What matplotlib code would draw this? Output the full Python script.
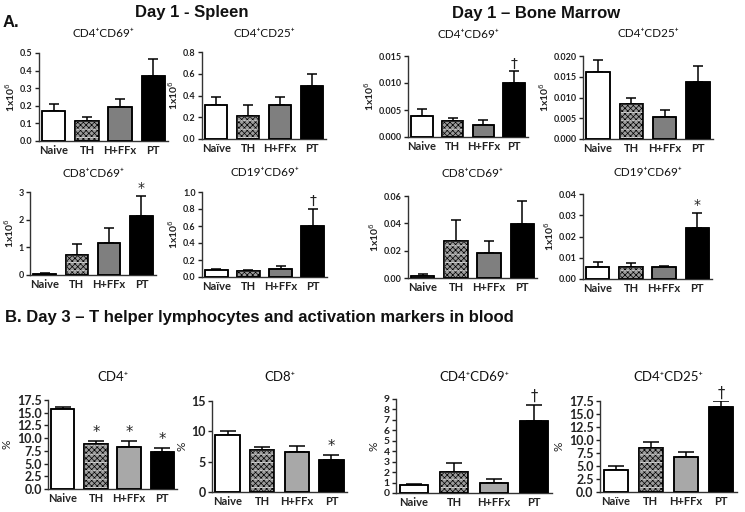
import matplotlib.pyplot as plt
from matplotlib.ticker import FormatStrFormatter, MultipleLocator

plt.rcParams['font.family'] = ['Lato', 'DejaVu Sans']
plt.rcParams['hatch.linewidth'] = 0.5
plt.rcParams['mathtext.fontset'] = 'dejavusans'

# groups on the x axis
groups = ['Naive', 'TH', 'H+FFx', 'PT']
groups_dia = ['Naïve', 'TH', 'H+FFx', 'PT']

# Day 1 - spleen (1x10^6 cells)
spl_cd4cd69 = [0.170, 0.113, 0.194, 0.368]
spl_cd4cd69_err = [0.040, 0.023, 0.046, 0.098]
spl_cd4cd25 = [0.310, 0.210, 0.310, 0.490]
spl_cd4cd25_err = [0.075, 0.100, 0.080, 0.110]
spl_cd8cd69 = [0.05, 0.74, 1.16, 2.14]
spl_cd8cd69_err = [0.01, 0.38, 0.54, 0.73]
spl_cd19cd69 = [0.086, 0.067, 0.100, 0.600]
spl_cd19cd69_err = [0.008, 0.019, 0.033, 0.200]

# Day 1 - bone marrow (1x10^6 cells)
bm_cd4cd69 = [0.0039, 0.0030, 0.0023, 0.0100]
bm_cd4cd69_err = [0.0013, 0.0006, 0.0008, 0.0022]
bm_cd4cd25 = [0.0161, 0.0085, 0.0054, 0.0137]
bm_cd4cd25_err = [0.0030, 0.0013, 0.0015, 0.0040]
bm_cd8cd69 = [0.0017, 0.0272, 0.0182, 0.0398]
bm_cd8cd69_err = [0.0010, 0.0153, 0.0092, 0.0166]
bm_cd19cd69 = [0.0055, 0.0058, 0.0055, 0.0238]
bm_cd19cd69_err = [0.0023, 0.0016, 0.0008, 0.0072]

# Day 3 - blood (%)
bl_cd4 = [15.7, 8.9, 8.25, 7.25]
bl_cd4_err = [0.45, 0.5, 1.2, 0.8]
bl_cd8 = [9.4, 6.95, 6.6, 5.3]
bl_cd8_err = [0.6, 0.45, 1.0, 0.8]
bl_cd4cd69 = [0.72, 2.0, 0.92, 6.87]
bl_cd4cd69_err = [0.1, 0.85, 0.4, 1.58]
bl_cd4cd25 = [4.3, 8.5, 6.8, 16.4]
bl_cd4cd25_err = [0.7, 1.1, 0.9, 1.1]

MEG = '1x10$^6$'
P = '⁺'
panels = [
    # values, errors, title, ymax, step, fmt, ylabel, x labels, marks, row
    (spl_cd4cd69, spl_cd4cd69_err, f'CD4{P}CD69{P}', 0.5, 0.1, '%.1f', MEG, groups, [None] * 4, 'A'),
    (spl_cd4cd25, spl_cd4cd25_err, f'CD4{P}CD25{P}', 0.8, 0.2, '%.1f', MEG, groups_dia, [None] * 4, 'A'),
    (bm_cd4cd69, bm_cd4cd69_err, f'CD4{P}CD69{P}', 0.015, 0.005, '%.3f', MEG, groups, [None, None, None, '†'], 'A'),
    (bm_cd4cd25, bm_cd4cd25_err, f'CD4{P}CD25{P}', 0.020, 0.005, '%.3f', MEG, groups, [None] * 4, 'A'),
    (spl_cd8cd69, spl_cd8cd69_err, f'CD8{P}CD69{P}', 3, 1, '%.0f', MEG, groups, [None, None, None, '*'], 'A'),
    (spl_cd19cd69, spl_cd19cd69_err, f'CD19{P}CD69{P}', 1.0, 0.2, '%.1f', MEG, groups_dia, [None, None, None, '†'], 'A'),
    (bm_cd8cd69, bm_cd8cd69_err, f'CD8{P}CD69{P}', 0.06, 0.02, '%.2f', MEG, groups, [None] * 4, 'A'),
    (bm_cd19cd69, bm_cd19cd69_err, f'CD19{P}CD69{P}', 0.04, 0.01, '%.2f', MEG, groups, [None, None, None, '*'], 'A'),
    (bl_cd4, bl_cd4_err, f'CD4{P}', 17.5, 2.5, '%.1f', '%', groups, [None, '*', '*', '*'], 'B'),
    (bl_cd8, bl_cd8_err, f'CD8{P}', 15, 5, '%.0f', '%', groups, [None, None, None, '*'], 'B'),
    (bl_cd4cd69, bl_cd4cd69_err, f'CD4{P}CD69{P}', 9, 1, '%.0f', '%', groups, [None, None, None, '†'], 'B'),
    (bl_cd4cd25, bl_cd4cd25_err, f'CD4{P}CD25{P}', 17.5, 2.5, '%.1f', '%', groups_dia, [None, None, None, '†'], 'B'),
]

# axes boxes in pixels: left, top, right, bottom
boxes = [
    (39, 53, 168, 141), (202, 52, 326, 139), (408, 56, 528, 137), (583, 56, 713, 139),
    (30, 192, 156, 275), (202, 192, 327, 277), (408, 196, 537, 278), (583, 194, 712, 279),
    (48, 400, 177, 489), (212, 401, 347, 492), (396, 399, 552, 493), (600, 401, 737, 492),
]
title_base = [37, 37, 38, 37, 177, 176, 177, 176, 381, 381, 381, 381]

W, H = 745, 512
fig = plt.figure(figsize=(W / 100, H / 100), dpi=100)

for (vals, errs, title, ymax, step, fmt, ylab, labels, marks, row), box, tb in zip(panels, boxes, title_base):
    l, t, r, b = box
    ax = fig.add_axes([l / W, 1 - b / H, (r - l) / W, (b - t) / H])
    x = range(len(vals))
    ffx = '#7f7f7f' if row == 'A' else '#a8a8a8'
    faces = ['white', '#9a9a9a', ffx, 'black']
    ax.bar(x, vals, 0.7, color=faces, edgecolor='black', linewidth=1.1, zorder=2,
           hatch=[None, 'xxxxxx', None, None])
    # white dashed stripes of the TH bar
    ax.bar(1, vals[1], 0.7, fill=False, hatch='--', edgecolor='#f2f2f2', linewidth=0.5, zorder=2.5)
    ax.bar(x, vals, 0.7, fill=False, edgecolor='black', linewidth=1.1, zorder=3)
    cap = 3.5 if row == 'A' else 5.5
    ax.errorbar(x, vals, yerr=[[0] * 4, errs], fmt='none', ecolor='black', elinewidth=1.1,
                capsize=cap, capthick=1.1, zorder=1.5)
    for i, m in enumerate(marks):
        if m:
            ax.annotate(m, (i, vals[i] + errs[i]), xytext=(0, 0.5), textcoords='offset points',
                        ha='center', va='bottom', fontsize=10 if row == 'A' else 10.5,
                        family='DejaVu Sans', color='#222222')

    ax.set_xlim(-0.45, 3.45)
    ax.set_ylim(0, ymax)
    ax.yaxis.set_major_locator(MultipleLocator(step))
    ax.yaxis.set_major_formatter(FormatStrFormatter(fmt))
    ax.set_xticks(list(x))
    ax.set_xticklabels(labels, fontweight='bold', fontsize=8, color='#222222')
    ax.tick_params(axis='x', length=0, pad=3)
    if row == 'A':
        ysize = 6.5
    elif step == 1:
        ysize = 7.5
    else:
        ysize = 9
    ax.tick_params(axis='y', length=3, width=1, pad=1.5, colors='#222222', labelsize=ysize)
    for lab in ax.get_yticklabels():
        lab.set_fontweight('bold')
    for side in ['top', 'right']:
        ax.spines[side].set_visible(False)
    for side in ['left', 'bottom']:
        ax.spines[side].set_linewidth(1.0)
        ax.spines[side].set_color('#333333')
    if row == 'A':
        ax.set_ylabel(ylab, fontsize=7.5, fontweight='bold', labelpad=2, color='#222222')
    else:
        ax.set_ylabel(ylab, fontsize=8.5, labelpad=3, color='#222222')

    fig.text((l + r) / 2 / W, 1 - tb / H, title, ha='center', va='baseline',
             fontsize=8.5 if row == 'A' else 9.5, color='#111111')

# section headings
head = dict(fontsize=12, fontweight='bold', family='Liberation Sans', va='baseline', color='#111111')
fig.text(3 / W, 1 - 27 / H, 'A.', **head)
fig.text(135 / W, 1 - 17 / H, 'Day 1 - Spleen', **head)
fig.text(452 / W, 1 - 18 / H, 'Day 1 – Bone Marrow', **head)
fig.text(5 / W, 1 - 322 / H, 'B. Day 3 – T helper lymphocytes and activation markers in blood', **head)

plt.savefig('out.png', dpi=100)
